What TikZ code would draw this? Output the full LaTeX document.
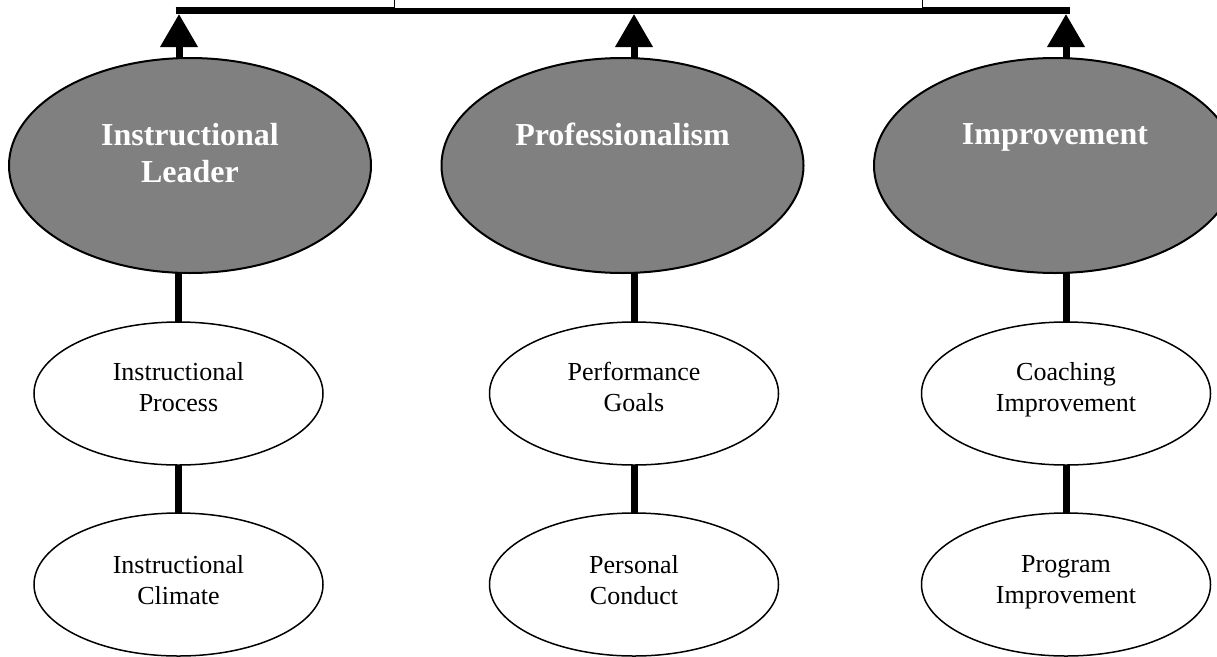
\documentclass[tikz,border=0pt]{standalone}
\usepackage{fontspec}
\setmainfont{Liberation Serif}
\usepackage[]{xcolor}
\usetikzlibrary{arrows.meta}
\usetikzlibrary{shapes.geometric}
\usetikzlibrary{positioning}
\definecolor{ovalgray}{HTML}{808080}
\tikzset{bigoval/.style = {ellipse, draw, line width=2, fill=ovalgray, minimum width=362, minimum height=215, inner sep=0, outer sep=0}}
\tikzset{smalloval/.style = {ellipse, draw, line width=1.5, fill=white, minimum width=289, minimum height=143, inner sep=0, outer sep=0}}
\tikzset{bigtxt/.style = {anchor=north, align=center, inner sep=0, text=white, font=\fontsize{32}{37}\selectfont\bfseries}}
\tikzset{smalltxt/.style = {anchor=north, align=center, inner sep=0, font=\fontsize{26}{31}\selectfont}}
\tikzset{link/.style = {line width=7}}
\tikzset{uparrow/.style = {line width=7, -{Triangle[length=33pt, width=36pt]}}}

\begin{document}
\begin{tikzpicture}[x=1pt, y=-1pt]
            \clip (0,0) rectangle (1217,656);
            \useasboundingbox (0,0) rectangle (1217,656);
            \coordinate (barL) at (175.5,10.5);
            \coordinate (barR) at (1069.5,10.5);
            \coordinate (tipA) at (179,14);
            \coordinate (tipB) at (634,14);
            \coordinate (tipC) at (1066,14);
            \draw [line width=7] (barL)--(barR);
            \draw [line width=1, fill=white] (394,-20) rectangle (922,8);
            \node [bigoval] (lead) at (190,165.5) {};
            \node [bigoval] (prof) at (622.5,165.5) {};
            \node [bigoval] (impr) at (1055,165.5) {};
            \node [bigtxt] (lead-t) at ([yshift=-65]lead.north) {Instructional\\Leader};
            \node [bigtxt] (prof-t) at ([yshift=-65]prof.north) {Professionalism};
            \node [bigtxt] (impr-t) at ([yshift=-65]impr.north) {Improvement};
            \node [smalloval] (process) at (178.5,393.5) {};
            \node [smalloval] (goals) at (634,393.5) {};
            \node [smalloval] (coach) at (1066,393.5) {};
            \node [smalloval] (climate) at (178.5,584.5) {};
            \node [smalloval] (conduct) at (634,584.5) {};
            \node [smalloval] (program) at (1066,584.5) {};
            \node [smalltxt] (process-t) at ([yshift=-40]process.north) {Instructional\\Process};
            \node [smalltxt] (goals-t) at ([yshift=-40]goals.north) {Performance\\Goals};
            \node [smalltxt] (coach-t) at ([yshift=-40]coach.north) {Coaching\\Improvement};
            \node [smalltxt] (climate-t) at ([yshift=-42]climate.north) {Instructional\\Climate};
            \node [smalltxt] (conduct-t) at ([yshift=-42]conduct.north) {Personal\\Conduct};
            \node [smalltxt] (program-t) at ([yshift=-42]program.north) {Program\\Improvement};
            \draw [uparrow] (lead.north -| tipA)--(tipA);
            \draw [uparrow] (prof.north -| tipB)--(tipB);
            \draw [uparrow] (impr.north -| tipC)--(tipC);
            \draw [link] (lead.south -| process.north)--(process.north);
            \draw [link] (prof.south -| goals.north)--(goals.north);
            \draw [link] (impr.south -| coach.north)--(coach.north);
            \draw [link] (process.south)--(climate.north);
            \draw [link] (goals.south)--(conduct.north);
            \draw [link] (coach.south)--(program.north);
        \end{tikzpicture}
\end{document}
